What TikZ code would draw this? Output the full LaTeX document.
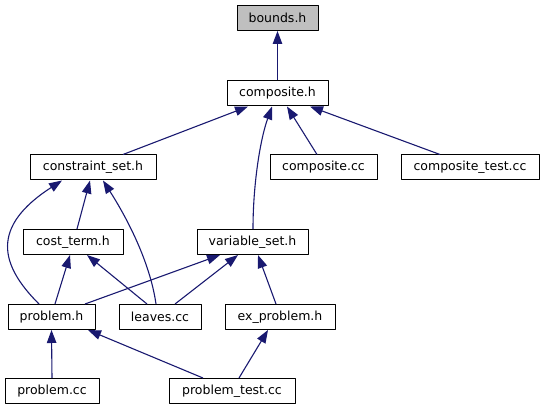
\documentclass[tikz,border=0pt]{standalone}
\usepackage{fontspec}
\setmainfont{DejaVu Sans}
\usetikzlibrary{arrows.meta}
\definecolor{edgeblue}{HTML}{191970}
\definecolor{headgray}{HTML}{BFBFBF}
\begin{document}
\begin{tikzpicture}[x=1pt,y=-1pt,line join=round,
  box/.style={draw,fill=white,line width=1pt,minimum height=25pt,inner sep=0pt,font=\fontsize{12.5}{14}\selectfont},
  edge/.style={-{Triangle[length=13pt,width=9.5pt]},edgeblue,line width=1.1pt}]
\useasboundingbox (0,0) rectangle (545,411);
% cac nut theo tung hang
\node[box,fill=headgray,minimum width=81pt] (bounds) at (277.5,18) {bounds.h};
\node[box,minimum width=101pt] (composite) at (277.5,93.5) {composite.h};
\node[box,minimum width=126pt] (constraint) at (93,167.5) {constraint\_set.h};
\node[box,minimum width=107pt] (compcc) at (323.5,167.5) {composite.cc};
\node[box,minimum width=138pt] (comptest) at (470,167.5) {composite\_test.cc};
\node[box,minimum width=100pt] (costterm) at (73,242) {cost\_term.h};
\node[box,minimum width=111pt] (varset) at (252.5,242) {variable\_set.h};
\node[box,minimum width=87pt] (problemh) at (51.5,317) {problem.h};
\node[box,minimum width=82pt] (leaves) at (160,317) {leaves.cc};
\node[box,minimum width=110pt] (exproblem) at (280,317) {ex\_problem.h};
\node[box,minimum width=94pt] (problemcc) at (52,391) {problem.cc};
\node[box,minimum width=126pt] (probtest) at (232,391) {problem\_test.cc};
% cac canh (mui ten chi vao file duoc include)
\draw[edge] (composite.north) -- (bounds.south);
\draw[edge] ([xshift=30pt]constraint.north) -- ([xshift=-29.5pt]composite.south);
\draw[edge] ([xshift=-6.5pt]compcc.north) -- ([xshift=9.5pt]composite.south);
\draw[edge] ([xshift=-30pt]comptest.north) -- ([xshift=32.5pt]composite.south);
\draw[edge] ([xshift=.5pt]varset.north) .. controls (253,185) and (260,140) .. ([xshift=-5.5pt]composite.south);
\draw[edge] ([xshift=4pt]costterm.north) -- ([xshift=-3pt]constraint.south);
\draw[edge] ([xshift=-12.5pt]problemh.north) .. controls (0,265) and (-10,227) .. ([xshift=-31pt]constraint.south);
\draw[edge] ([xshift=-4pt]leaves.north) .. controls (150,262) and (127,218) .. ([xshift=10pt]constraint.south);
\draw[edge] ([xshift=3.5pt]problemh.north) -- ([xshift=-3pt]costterm.south);
\draw[edge] ([xshift=-13pt]leaves.north) -- ([xshift=14pt]costterm.south);
\draw[edge] ([xshift=33.5pt]problemh.north) -- ([xshift=-32.5pt]varset.south);
\draw[edge] ([xshift=15pt]leaves.north) -- ([xshift=-14.5pt]varset.south);
\draw[edge] ([xshift=-4pt]exproblem.north) -- ([xshift=5.5pt]varset.south);
\draw[edge] (problemcc.north) -- (problemh.south);
\draw[edge] ([xshift=-29pt]probtest.north) -- ([xshift=36.5pt]problemh.south);
\draw[edge] ([xshift=7pt]probtest.north) -- ([xshift=-12pt]exproblem.south);
\end{tikzpicture}
\end{document}
